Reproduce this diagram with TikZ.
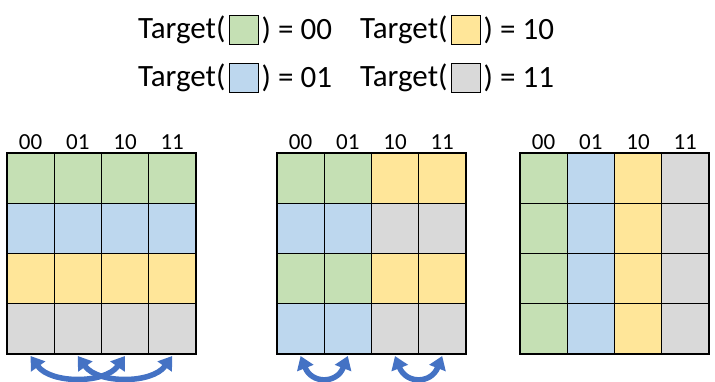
\documentclass[tikz,border=0pt]{standalone}
\usepackage{fontspec}
\setmainfont{Carlito}
\usepackage{tikz}
\usetikzlibrary{arrows.meta,positioning}

\definecolor{tgreen}{HTML}{C5E0B4}
\definecolor{tblue}{HTML}{BDD7EE}
\definecolor{tyellow}{HTML}{FFE699}
\definecolor{tgray}{HTML}{D9D9D9}
\definecolor{swapblue}{HTML}{4472C4}

\begin{document}
\begin{tikzpicture}[x=1pt, y=1pt,
    cell/.style={draw=black, line width=1.4pt, minimum width=47.2pt, minimum height=50.25pt, inner sep=0pt, outer sep=0pt},
    collabel/.style={font=\fontsize{23}{23}\selectfont, inner sep=0pt},
    legtext/.style={font=\fontsize{31}{31}\selectfont, inner sep=0pt},
    legbox/.style={draw=black, line width=0.8pt, minimum width=29pt, minimum height=29pt, inner sep=0pt},
    swaparrow/.style={draw=swapblue, line width=5.5pt, {Triangle[width=17pt,length=13pt]}-{Triangle[width=17pt,length=13pt]}}]
  \useasboundingbox (0,0) rectangle (715,-382);

  % Legend
  \node[legtext, anchor=base west] (ta) at (138,-39) {Target(};
  \node[legbox, fill=tgreen, right=3pt of ta] (ba) {};
  \node[legtext, right=3pt of ba] (va) {) = 00};
  \node[legtext, anchor=base west] (tb) at (360,-39) {Target(};
  \node[legbox, fill=tyellow, right=3pt of tb] (bb) {};
  \node[legtext, right=3pt of bb] (vb) {) = 10};
  \node[legtext, anchor=base west] (tc) at (138,-87) {Target(};
  \node[legbox, fill=tblue, right=3pt of tc] (bc) {};
  \node[legtext, right=3pt of bc] (vc) {) = 01};
  \node[legtext, anchor=base west] (td) at (360,-87) {Target(};
  \node[legbox, fill=tgray, right=3pt of td] (bd) {};
  \node[legtext, right=3pt of bd] (vd) {) = 11};

  % Grid 1: rows
  \foreach \row [count=\r from 0] in {{tgreen,tgreen,tgreen,tgreen},{tblue,tblue,tblue,tblue},{tyellow,tyellow,tyellow,tyellow},{tgray,tgray,tgray,tgray}}
    \foreach \col [count=\c from 0] in \row
      \node[cell, fill=\col] (g1-\r-\c) at (7+23.6+47.2*\c, -153-25.125-50.25*\r) {};

  % Grid 2: blocks
  \foreach \row [count=\r from 0] in {{tgreen,tgreen,tyellow,tyellow},{tblue,tblue,tgray,tgray},{tgreen,tgreen,tyellow,tyellow},{tblue,tblue,tgray,tgray}}
    \foreach \col [count=\c from 0] in \row
      \node[cell, fill=\col] (g2-\r-\c) at (277+23.6+47.2*\c, -153-25.125-50.25*\r) {};

  % Grid 3: columns
  \foreach \row [count=\r from 0] in {{tgreen,tblue,tyellow,tgray},{tgreen,tblue,tyellow,tgray},{tgreen,tblue,tyellow,tgray},{tgreen,tblue,tyellow,tgray}}
    \foreach \col [count=\c from 0] in \row
      \node[cell, fill=\col] (g3-\r-\c) at (520+23.6+47.2*\c, -153-25.125-50.25*\r) {};

  % Column labels
  \foreach \g in {1,2,3}
    \foreach \lab [count=\c from 0] in {00,01,10,11}
      \node[collabel, above=3pt of g\g-0-\c] (h\g-\c) {\lab};

  % Swaps
  \draw[swaparrow] ([yshift=-2pt]g1-3-0.south) .. controls +(20,-28) and +(-20,-28) .. ([yshift=-2pt]g1-3-2.south);
  \draw[swaparrow] ([yshift=-2pt]g1-3-1.south) .. controls +(20,-28) and +(-20,-28) .. ([yshift=-2pt]g1-3-3.south);
  \draw[swaparrow] ([yshift=-2pt]g2-3-0.south) .. controls +(11,-28) and +(-11,-28) .. ([yshift=-2pt]g2-3-1.south);
  \draw[swaparrow] ([yshift=-2pt]g2-3-2.south) .. controls +(11,-28) and +(-11,-28) .. ([yshift=-2pt]g2-3-3.south);
\end{tikzpicture}
\end{document}
